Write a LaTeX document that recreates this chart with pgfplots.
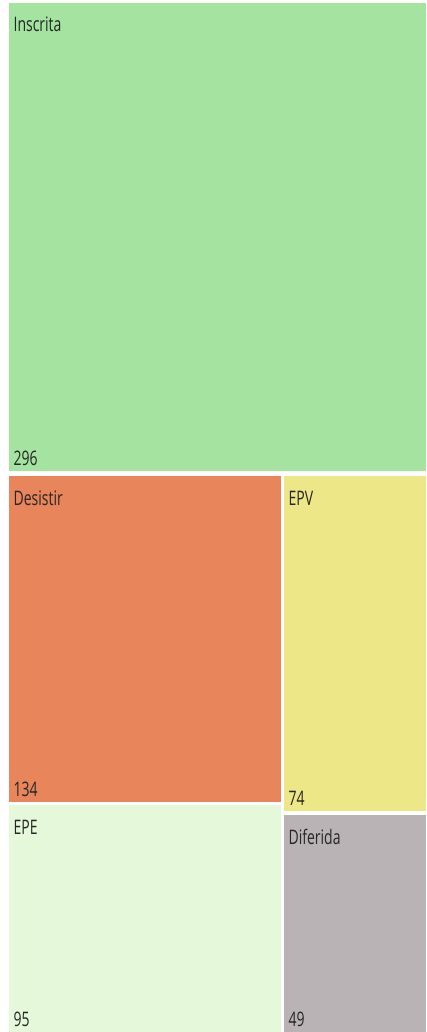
\documentclass[border=0pt]{standalone}
\usepackage{pgfplots}
\pgfplotsset{compat=1.18}
\usepackage{fontspec}
\setmainfont{Open Sans}

\definecolor{cInscrita}{HTML}{A4E4A0}
\definecolor{cDesistir}{HTML}{E8855B}
\definecolor{cEPV}{HTML}{EDE787}
\definecolor{cEPE}{HTML}{E5F8DA}
\definecolor{cDiferida}{HTML}{BAB3B6}
\definecolor{txt}{HTML}{262626}

% tile: x0, x1, y0, y1, colour, name, value
\newcommand\tile[7]{%
  \addplot[fill=#5, draw=none] coordinates {(#1,#3) (#2,#3) (#2,#4) (#1,#4)} --cycle;
  \node[anchor=base west, inner sep=0pt, xscale=0.7, text=txt,
        font=\fontsize{20}{24}\selectfont] at (axis cs:#1+4.5,#3+29) {#6};
  \node[anchor=base west, inner sep=0pt, xscale=0.7, text=txt,
        font=\fontsize{20}{24}\selectfont] at (axis cs:#1+4.5,#4-6) {#7};
}

\begin{document}
\begin{tikzpicture}
\begin{axis}[
    width=426pt, height=1032pt,
    scale only axis,
    xmin=0, xmax=426,
    ymin=0, ymax=1032,
    y dir=reverse,
    hide axis,
    clip=false,
]
  % white canvas, so that the margins stay
  \addplot[fill=white, draw=none] coordinates {(0,0) (426,0) (426,1032) (0,1032)} --cycle;
  \tile{9}{426}{3}{471}{cInscrita}{Inscrita}{296}
  \tile{9}{281}{476}{802}{cDesistir}{Desistir}{134}
  \tile{284}{426}{476}{811}{cEPV}{EPV}{74}
  \tile{9}{281}{805}{1032}{cEPE}{EPE}{95}
  \tile{284}{426}{815}{1032}{cDiferida}{Diferida}{49}
\end{axis}
\end{tikzpicture}
\end{document}
